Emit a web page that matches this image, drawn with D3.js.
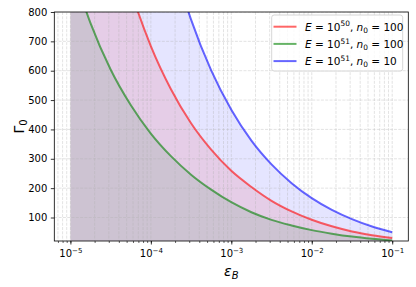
<!DOCTYPE html>
<html><head><meta charset="utf-8">
<script src="https://cdn.jsdelivr.net/npm/d3@7"></script>
<style>
body{margin:0;background:#fff;}
svg{display:block;font-family:"DejaVu Sans",sans-serif;}
</style></head>
<body><svg id="c" width="416" height="287"></svg>
<script>
// ---- data ----
const logEpsB = [-5,-4.75,-4.5,-4.25,-4,-3.75,-3.5,-3.25,-3,-2.75,-2.5,-2.25,-2,-1.75,-1.5,-1.25,-1];
const gammaRed   = [1836,1435,1120,875,684,537,421,331,259,204,157,121,92.5,70,52.5,39.8,30];
const gammaGreen = [966,762,604,483,386,309,246,195,152,118,92,73,57,45,35,27.5,21.7];
const gammaBlue  = [3540,2748,2133,1656,1285,998,774,601,467,362,281,217,166,126,94.4,69.2,50.1];
const seriesNames = [
  {E:"50", n:"100"},
  {E:"51", n:"100"},
  {E:"51", n:"10"}
];
const seriesColors = ["#ff0000","#008000","#0000ff"];
const yTicks = [100,200,300,400,500,600,700,800];
const xTickExps = [-5,-4,-3,-2,-1];
const yDomain = [20, 800];

// ---- layout ----
const L = 54.3, R = 408.3, T = 12, B = 241;
const svg = d3.select("#c");
const x = d3.scaleLog().domain([Math.pow(10,-5.2), Math.pow(10,-0.8)]).range([L, R]);
const y = d3.scaleLinear().domain(yDomain).range([B, T]);

const series = [gammaRed, gammaGreen, gammaBlue].map((vals,i)=>({
  pts: vals.map((v,j)=>({x:Math.pow(10,logEpsB[j]), y:v})),
  color: seriesColors[i], name: seriesNames[i]
}));

svg.append("defs").append("clipPath").attr("id","clip")
  .append("rect").attr("x",L).attr("y",T).attr("width",R-L).attr("height",B-T);

const plot = svg.append("g").attr("clip-path","url(#clip)");

// fills
const area = d3.area().x(d=>x(d.x)).y0(B).y1(d=>y(d.y)).curve(d3.curveMonotoneX);
series.forEach(s=>{
  plot.append("path").datum(s.pts).attr("d",area)
    .attr("fill",s.color).attr("fill-opacity",0.1).attr("stroke","none");
});

// grid
const minorX = [];
for (let e=-6;e<=-1;e++) for (let k=1;k<10;k++){ const v=k*Math.pow(10,e); if (v>=x.domain()[0] && v<=x.domain()[1]) minorX.push(v); }
const grid = plot.append("g").attr("stroke","#b0b0b0").attr("stroke-opacity",0.45)
  .attr("stroke-width",0.8).attr("stroke-dasharray","3,1.3").attr("fill","none");
minorX.forEach(v=>{ const px=x(v); grid.append("line").attr("x1",px).attr("x2",px).attr("y1",T).attr("y2",B); });
yTicks.forEach(v=>{ const py=y(v); grid.append("line").attr("x1",L).attr("x2",R).attr("y1",py).attr("y2",py); });

// lines
const line = d3.line().x(d=>x(d.x)).y(d=>y(d.y)).curve(d3.curveMonotoneX);
series.forEach(s=>{
  plot.append("path").datum(s.pts).attr("d",line)
    .attr("fill","none").attr("stroke",s.color).attr("stroke-opacity",0.6).attr("stroke-width",2);
});

// axes
const yAxis = d3.axisLeft(y).tickValues(yTicks).tickSize(3.5).tickPadding(3.5).tickFormat(d3.format("d"));
const gy = svg.append("g").attr("transform",`translate(${L},0)`).call(yAxis);
gy.select(".domain").remove();
gy.selectAll("text").attr("font-size",10).attr("font-family","DejaVu Sans").attr("fill","#000");
gy.selectAll("line").attr("stroke","#000").attr("stroke-width",0.8);

const xAxisMinor = d3.axisBottom(x).tickValues(minorX).tickSize(2).tickFormat("");
const gxm = svg.append("g").attr("transform",`translate(0,${B})`).call(xAxisMinor);
gxm.select(".domain").remove();
gxm.selectAll("line").attr("stroke","#000").attr("stroke-width",0.6);

const xAxis = d3.axisBottom(x).tickValues(xTickExps.map(e=>Math.pow(10,e))).tickSize(3.5).tickFormat("");
const gx = svg.append("g").attr("transform",`translate(0,${B})`).call(xAxis);
gx.select(".domain").remove();
gx.selectAll("line").attr("stroke","#000").attr("stroke-width",0.8);
gx.selectAll(".tick").each(function(d){
  const e = Math.round(Math.log10(d));
  const t = d3.select(this).append("text").attr("y",16).attr("text-anchor","middle")
    .attr("font-size",10).attr("font-family","DejaVu Sans").attr("fill","#000");
  t.append("tspan").text("10");
  t.append("tspan").attr("font-size",7).attr("dy",-4.5).text("\u2212"+Math.abs(e));
});

// spines
svg.append("rect").attr("x",L).attr("y",T).attr("width",R-L).attr("height",B-T)
  .attr("fill","none").attr("stroke","#000").attr("stroke-width",0.8);

// axis labels
const xl = svg.append("text").attr("x",(L+R)/2).attr("y",276).attr("text-anchor","middle")
  .attr("font-size",14).attr("font-family","DejaVu Sans").attr("fill","#000");
xl.append("tspan").attr("font-style","italic").text("\u03b5");
xl.append("tspan").attr("font-style","italic").attr("font-size",10).attr("dy",3).text("B");

const yl = svg.append("text").attr("transform",`translate(24,${(T+B)/2}) rotate(-90)`).attr("text-anchor","middle")
  .attr("font-size",14).attr("font-family","DejaVu Sans").attr("fill","#000");
yl.append("tspan").text("\u0393");
yl.append("tspan").attr("font-size",10).attr("dy",3).text("0");

// legend
const lg = svg.append("g");
lg.append("rect").attr("x",271.7).attr("y",15).attr("width",131).attr("height",56).attr("rx",2.5)
  .attr("fill","#fff").attr("fill-opacity",0.8).attr("stroke","#cccccc").attr("stroke-width",0.8);
series.forEach((s,i)=>{
  const cy = 26.7 + i*17.2;
  lg.append("line").attr("x1",273.5).attr("x2",296.5).attr("y1",cy).attr("y2",cy)
    .attr("stroke",s.color).attr("stroke-opacity",0.6).attr("stroke-width",2);
  const t = lg.append("text").attr("x",305).attr("y",cy+3.8).attr("font-size",10.5)
    .attr("font-family","DejaVu Sans").attr("fill","#000");
  t.append("tspan").attr("font-style","italic").text("E");
  t.append("tspan").text(" = 10");
  t.append("tspan").attr("font-size",7.4).attr("dy",-4.2).text(s.name.E);
  t.append("tspan").attr("dy",4.2).text(", ");
  t.append("tspan").attr("font-style","italic").text("n");
  t.append("tspan").attr("font-size",7.4).attr("dy",2.5).text("0");
  t.append("tspan").attr("dy",-2.5).text(" = "+s.name.n);
});
</script></body></html>
